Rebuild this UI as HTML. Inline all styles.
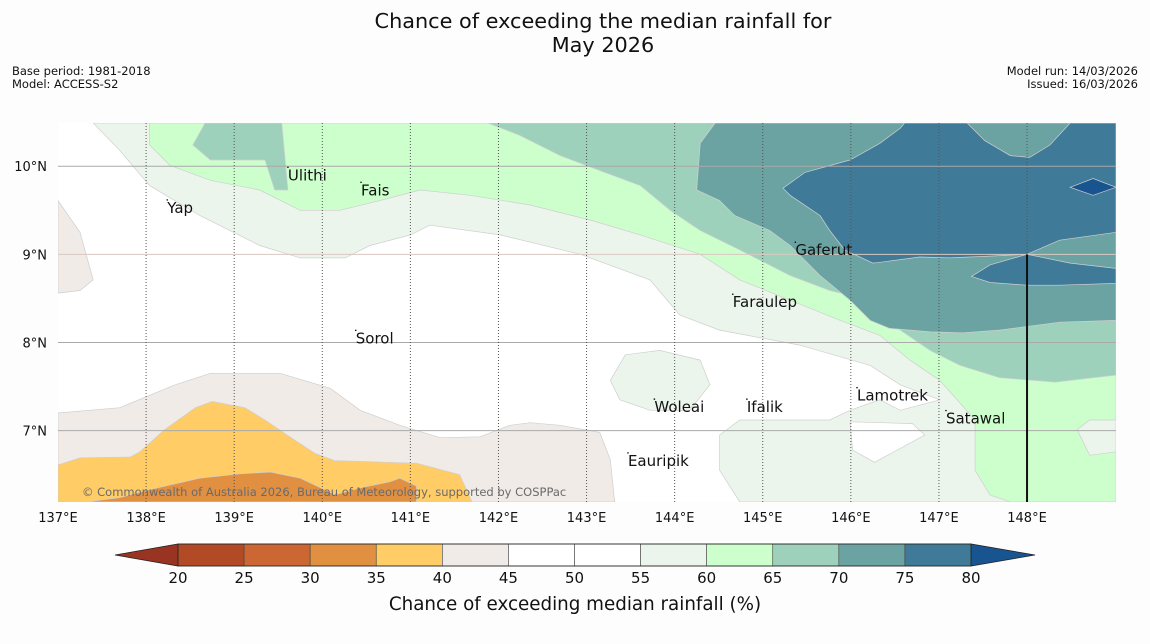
<!DOCTYPE html>
<html><head><meta charset="utf-8"><style>
html,body{margin:0;padding:0;background:#fdfdfd;}
svg{display:block;font-family:"DejaVu Sans","Liberation Sans",sans-serif;}
</style></head><body>
<svg id="chart" width="1150" height="644" viewBox="0 0 1150 644">
<rect width="1150" height="644" fill="#fdfdfd"/>
<text x="603" y="28" font-size="20.8" text-anchor="middle" fill="#111">Chance of exceeding the median rainfall for</text>
<text x="603" y="52" font-size="20.8" text-anchor="middle" fill="#111">May 2026</text>
<text x="12" y="75" font-size="11.5" fill="#111">Base period: 1981-2018</text>
<text x="12" y="88" font-size="11.5" fill="#111">Model: ACCESS-S2</text>
<text x="1138" y="75" font-size="11.5" text-anchor="end" fill="#111">Model run: 14/03/2026</text>
<text x="1138" y="88" font-size="11.5" text-anchor="end" fill="#111">Issued: 16/03/2026</text>
<defs><clipPath id="mapclip"><rect x="58" y="123" width="1058" height="379"/></clipPath></defs>
<rect x="58" y="123" width="1058" height="379" fill="#ffffff"/>
<g id="layers" clip-path="url(#mapclip)"></g>
<g id="grid" clip-path="url(#mapclip)"></g>
<g id="places"></g>
<text x="82" y="496" font-size="11.5" fill="#6a6a6a">© Commonwealth of Australia 2026, Bureau of Meteorology, supported by COSPPac</text>
<g id="axes"></g>
<g id="cbar"></g>
<text x="575" y="610" font-size="18.3" text-anchor="middle" fill="#111">Chance of exceeding median rainfall (%)</text>
</svg>
<script>
const lonTicks=[137,138,139,140,141,142,143,144,145,146,147,148];
const latTicks=[7,8,9,10];
const cbarBounds=[20,25,30,35,40,45,50,55,60,65,70,75,80];
const cbarColors=["#b34a26","#cc6633","#e09040","#ffcc66","#f0ebe6","#ffffff","#ffffff","#ebf5eb","#ccffcc","#9dd1bb","#6ba3a3","#3f7a99"];
const cbarLow="#993322", cbarHigh="#175490";
const beigeLeft=[[137,9.61],[137.25,9.25],[137.40,8.71],[137.25,8.59],[137,8.56]];
const beigeBottom=[[137,7.20],[137.70,7.26],[138.33,7.52],[138.73,7.65],[139.52,7.65],[140.09,7.48],[140.43,7.23],[140.88,7.06],[141.34,6.92],[141.79,6.93],[142.13,7.06],[142.36,7.09],[142.70,7.06],[143.15,6.98],[143.27,6.67],[143.32,6.19],[137,6.19]];
const yellow35=[[137,6.61],[137.25,6.69],[137.82,6.70],[137.93,6.76],[138.21,7.01],[138.56,7.26],[138.75,7.33],[139.12,7.26],[139.35,7.12],[139.69,6.89],[139.92,6.74],[140.14,6.66],[141.07,6.63],[141.56,6.50],[141.70,6.19],[137,6.19]];
const orange30=[[137.31,6.19],[137.70,6.24],[138.04,6.33],[138.61,6.46],[139.07,6.51],[139.41,6.53],[139.75,6.46],[140.09,6.30],[140.14,6.27],[140.43,6.35],[140.77,6.42],[140.88,6.46],[141.07,6.37],[141.07,6.19]];
const lg55=[[137.40,10.49],[137.70,10.18],[138.04,9.78],[138.61,9.44],[139.29,9.10],[139.75,8.96],[140.26,8.96],[140.54,9.10],[141.00,9.22],[141.22,9.33],[142.02,9.22],[142.93,9.00],[143.72,8.71],[144.06,8.31],[144.51,8.14],[145.42,7.97],[146.22,7.74],[146.56,7.52],[147.01,7.35],[146.56,7.23],[146.33,7.35],[145.99,7.23],[145.76,7.12],[145.31,7.12],[144.74,7.12],[144.51,6.95],[144.51,6.55],[144.74,6.19],[149.01,6.19],[149.01,10.49]];
const whiteNotch=[[145.99,7.10],[146.02,6.78],[146.27,6.64],[146.84,6.95],[146.70,7.08]];
const woleaiBlob=[[143.27,7.57],[143.44,7.86],[143.83,7.91],[144.29,7.80],[144.40,7.52],[144.17,7.23],[143.72,7.23],[143.38,7.35]];
const green60=[[138.04,10.49],[138.04,10.24],[138.27,10.01],[138.73,9.84],[139.29,9.73],[139.75,9.50],[140.20,9.50],[140.65,9.61],[141.11,9.73],[141.68,9.67],[142.36,9.56],[143.04,9.39],[143.61,9.22],[144.29,9.00],[144.74,8.71],[145.31,8.48],[145.88,8.25],[146.33,8.08],[146.67,7.80],[147.01,7.57],[147.41,7.12],[147.41,6.55],[147.58,6.27],[147.81,6.19],[149.01,6.19],[149.01,10.49]];
const lgPatch=[[148.57,7.01],[148.71,7.12],[149.01,7.12],[149.01,6.76],[148.71,6.72]];
const mint65=[[141.88,10.49],[142.24,10.35],[142.70,10.12],[143.15,9.95],[143.61,9.78],[143.95,9.50],[144.29,9.27],[144.74,9.05],[145.31,8.76],[145.76,8.59],[146.22,8.48],[146.56,8.14],[146.90,7.91],[147.24,7.74],[147.69,7.60],[148.32,7.55],[149.01,7.63],[149.01,10.49]];
const mintBlob=[[138.67,10.49],[138.53,10.24],[138.73,10.07],[139.35,10.07],[139.46,9.73],[139.61,9.73],[139.54,10.49]];
const teal70=[[144.46,10.49],[144.29,10.26],[144.25,9.73],[144.51,9.61],[144.68,9.44],[145.08,9.27],[145.31,9.10],[145.65,8.76],[145.99,8.48],[146.22,8.25],[146.44,8.16],[146.90,8.12],[147.27,8.11],[147.69,8.14],[148.37,8.23],[149.01,8.25],[149.01,10.49]];
const blue75=[[145.23,9.75],[145.48,9.93],[145.99,10.07],[146.33,10.26],[146.56,10.43],[146.61,10.49],[147.32,10.49],[147.52,10.29],[147.81,10.12],[148.03,10.10],[148.26,10.24],[148.49,10.49],[149.01,10.49],[149.01,9.25],[148.37,9.16],[148.00,9.00],[147.58,8.98],[147.12,8.96],[146.78,8.97],[146.33,8.91],[146.25,8.90],[145.93,9.05],[145.76,9.27],[145.65,9.44],[145.31,9.67]];
const blueBand=[[147.37,8.75],[147.58,8.88],[148.00,9.00],[148.49,8.90],[149.01,8.84],[149.01,8.67],[148.37,8.65],[148.00,8.65],[147.58,8.68]];
const dark80=[[148.49,9.76],[148.75,9.86],[149.01,9.76],[148.75,9.67]];
const placeNames=["Ulithi","Fais","Yap","Gaferut","Faraulep","Sorol","Woleai","Ifalik","Lamotrek","Satawal","Eauripik"];
const placeLon=[139.61,140.44,138.24,145.37,144.66,140.38,143.77,144.82,146.07,147.08,143.47];
const placeLat=[9.84,9.67,9.47,8.99,8.40,7.99,7.21,7.21,7.34,7.08,6.60];

const NS="http://www.w3.org/2000/svg";
const X0=58,X1=1116,Y0=123,Y1=502,LON0=137,LON1=149.01,LAT0=6.19,LAT1=10.49;
function xs(lon){return X0+(lon-LON0)/(LON1-LON0)*(X1-X0);}
function ys(lat){return Y1-(lat-LAT0)/(LAT1-LAT0)*(Y1-Y0);}
function mk(tag,attrs,parent){const e=document.createElementNS(NS,tag);for(const k in attrs)e.setAttribute(k,attrs[k]);parent.appendChild(e);return e;}
const L=document.getElementById('layers');
function poly(pts,fill,name){
  const e=mk('polygon',{points:pts.map(p=>xs(p[0]).toFixed(1)+','+ys(p[1]).toFixed(1)).join(' '),fill:fill,stroke:'#cfcfcf','stroke-width':0.7},L);
  
  
}
poly(beigeLeft,"#f0ebe6","contour-40-45-west");
poly(beigeBottom,"#f0ebe6","contour-40-45-south");
poly(yellow35,"#ffcc66","contour-35-40");
poly(orange30,"#e09040","contour-30-35");
poly(lg55,"#ebf5eb","contour-55-60");
poly(whiteNotch,"#ffffff","contour-45-55-notch");
poly(woleaiBlob,"#ebf5eb","contour-55-60-woleai");
poly(green60,"#ccffcc","contour-60-65");
poly(lgPatch,"#ebf5eb","contour-55-60-east");
poly(mint65,"#9dd1bb","contour-65-70");
poly(mintBlob,"#9dd1bb","contour-65-70-ulithi");
poly(teal70,"#6ba3a3","contour-70-75");
poly(blue75,"#3f7a99","contour-75-80");
poly(blueBand,"#3f7a99","contour-75-80-band");
poly(dark80,"#175490","contour-80-plus");

const G=document.getElementById('grid');
latTicks.forEach(v=>{const e=mk('line',{x1:X0,x2:X1,y1:ys(v),y2:ys(v),stroke:v===9?'#d8c8c0':'#aaaaaa','stroke-width':1},G);

});
lonTicks.forEach(v=>{if(v===137)return;const e=mk('line',{x1:xs(v),x2:xs(v),y1:Y0,y2:Y1,stroke:'#555','stroke-width':1,'stroke-dasharray':'1,2'},G);

});
const bl=mk('line',{x1:xs(148),x2:xs(148),y1:ys(9),y2:Y1,stroke:'#111','stroke-width':2},G);



const A=document.getElementById('axes');
lonTicks.forEach(v=>{const t=mk('text',{x:xs(v),y:522,'font-size':13,'text-anchor':'middle',fill:'#111'},A);t.textContent=v+'°E';

});
latTicks.forEach(v=>{const t=mk('text',{x:47,y:ys(v)+5,'font-size':13,'text-anchor':'end',fill:'#111'},A);t.textContent=v+'°N';

});

const P=document.getElementById('places');
placeNames.forEach((n,i)=>{const x=xs(placeLon[i]),y=ys(placeLat[i]);
const d=mk('circle',{cx:x,cy:y-13,r:0.8,fill:'#111'},P);


const t=mk('text',{x:x,y:y,'font-size':15,fill:'#111'},P);t.textContent=n;

});

const C=document.getElementById('cbar');
const CX0=178,CX1=971,CY=544,CH=22;
function cx(v){return CX0+(v-cbarBounds[0])/(cbarBounds[cbarBounds.length-1]-cbarBounds[0])*(CX1-CX0);}
const lt=mk('polygon',{points:`${CX0},${CY} ${CX0},${CY+CH} 115,${CY+CH/2}`,fill:cbarLow,stroke:'#222','stroke-width':0.8},C);


const rt=mk('polygon',{points:`${CX1},${CY} ${CX1},${CY+CH} 1035,${CY+CH/2}`,fill:cbarHigh,stroke:'#222','stroke-width':0.8},C);


cbarColors.forEach((c,i)=>{const r=mk('rect',{x:cx(cbarBounds[i]),y:CY,width:cx(cbarBounds[i+1])-cx(cbarBounds[i]),height:CH,fill:c,stroke:'#444','stroke-width':0.6},C);

});
mk('rect',{x:CX0,y:CY,width:CX1-CX0,height:CH,fill:'none',stroke:'#222','stroke-width':0.8},C);
cbarBounds.forEach(v=>{const t=mk('text',{x:cx(v),y:583,'font-size':15,'text-anchor':'middle',fill:'#111'},C);t.textContent=v;

});
</script>
</body></html>
